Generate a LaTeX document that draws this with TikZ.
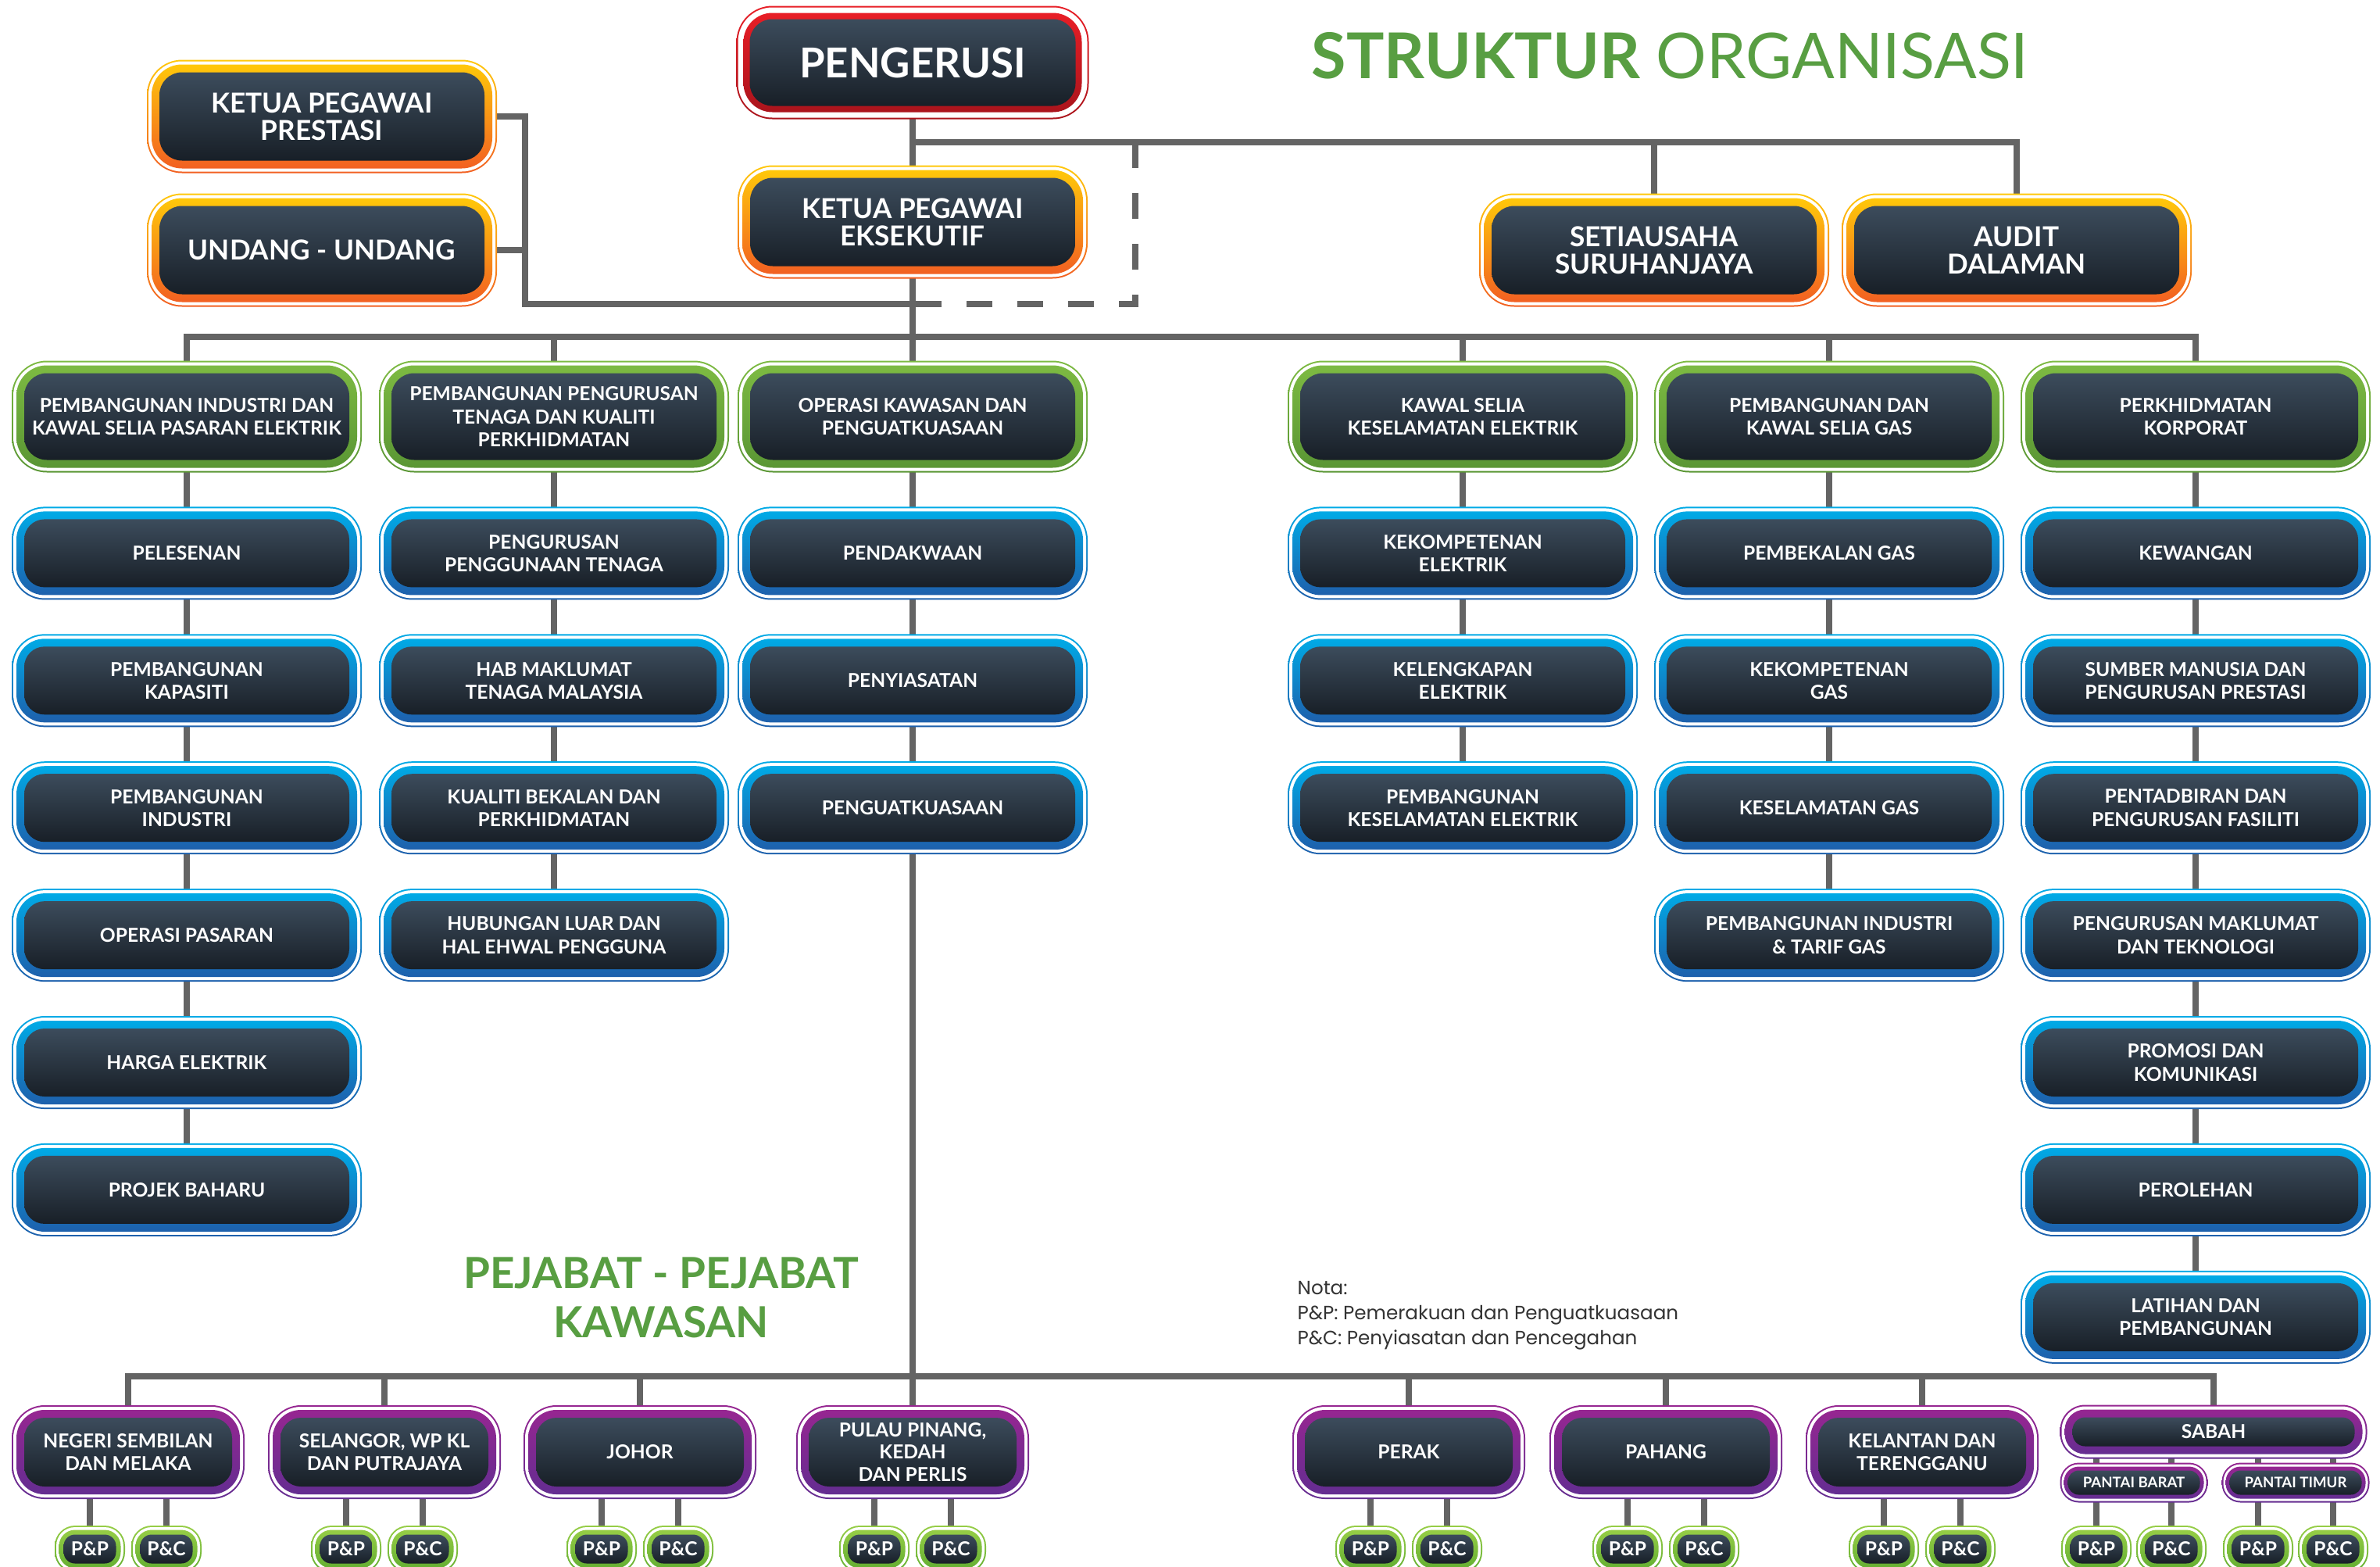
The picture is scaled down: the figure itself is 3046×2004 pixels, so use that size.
\documentclass[tikz,border=0pt]{standalone}
\usepackage{fontspec}
\setmainfont{Lato}
\newfontfamily\notafont{Poppins}
\usetikzlibrary{positioning,backgrounds}

\definecolor{dkA}{RGB}{60,76,92}
\definecolor{dkB}{RGB}{24,31,39}
\definecolor{redA}{RGB}{232,30,38}
\definecolor{redB}{RGB}{170,20,28}
\definecolor{orgA}{RGB}{255,200,10}
\definecolor{orgB}{RGB}{242,96,34}
\definecolor{grnA}{RGB}{125,186,66}
\definecolor{grnB}{RGB}{90,150,52}
\definecolor{bluA}{RGB}{0,170,230}
\definecolor{bluB}{RGB}{30,96,172}
\definecolor{purA}{RGB}{150,38,145}
\definecolor{purB}{RGB}{100,45,145}
\definecolor{limA}{RGB}{150,205,70}
\definecolor{limB}{RGB}{100,175,50}
\definecolor{linkc}{RGB}{100,100,100}
\definecolor{titlec}{RGB}{88,158,66}

\pgfkeys{/org/r/.initial=4mm, /org/a/.initial=0.2mm, /org/b/.initial=0.6mm, /org/c/.initial=1.6mm}

% one rounded layer inside a box, #2 in from its border
\newcommand\orglayer[2]{%
  \path[#1, rounded corners={max(\pgfkeysvalueof{/org/r}-#2,0.4mm)}]
    ([shift={(#2,#2)}]path picture bounding box.south west) rectangle
    ([shift={(-#2,-#2)}]path picture bounding box.north east);}
\newcommand\orgfill[2]{%
  \orglayer{fill=white}{\pgfkeysvalueof{/org/a}}%
  \orglayer{top color=#1, bottom color=#2}{\pgfkeysvalueof{/org/b}}%
  \orglayer{top color=dkA, bottom color=dkB}{\pgfkeysvalueof{/org/c}}}

% a column of sections hanging below #1-0
\newcommand\unitchain[2]{%
  \foreach \t [count=\i, remember=\i as \j (initially 0)] in {#2}{
    \node[sect, below=of #1-\j] (#1-\i) {\t};
    \begin{pgfonlayer}{background}
      \draw[link] (#1-\j) -- (#1-\i);
    \end{pgfonlayer}
  }}

\tikzset{
  orgunit/.style 2 args={rectangle, inner sep=0pt, align=center, text=white,
    top color=#1, bottom color=#2, path picture={\orgfill{#1}{#2}}},
  chief/.style={orgunit={redA}{redB}, /org/r=4.6mm, rounded corners=4.6mm,
    /org/b=0.9mm, /org/c=1.7mm, minimum width=45.1mm, minimum height=14.5mm,
    font=\bfseries\fontsize{15}{18}\selectfont},
  topbox/.style={orgunit={orgA}{orgB}, /org/r=4.5mm, rounded corners=4.5mm,
    minimum width=44.8mm, minimum height=14.5mm, font=\bfseries\fontsize{10}{10}\selectfont},
  dept/.style={orgunit={grnA}{grnB}, /org/r=4.5mm, rounded corners=4.5mm,
    minimum width=44.8mm, minimum height=14.3mm, font=\bfseries\fontsize{7}{8.3}\selectfont},
  sect/.style={orgunit={bluA}{bluB}, /org/r=4.2mm, rounded corners=4.2mm,
    minimum width=44.8mm, minimum height=11.9mm, font=\bfseries\fontsize{7}{8.3}\selectfont},
  office/.style={orgunit={purA}{purB}, /org/r=4.2mm, rounded corners=4.2mm,
    minimum width=29.8mm, minimum height=12mm, font=\bfseries\fontsize{7}{8.2}\selectfont},
  sabahbox/.style={office, /org/r=3.2mm, rounded corners=3.2mm,
    minimum width=39.3mm, minimum height=6.9mm},
  coast/.style={office, /org/r=2.4mm, rounded corners=2.4mm, /org/b=0.5mm, /org/c=1.0mm,
    minimum width=18.9mm, minimum height=5.1mm, font=\bfseries\fontsize{5.3}{6}\selectfont},
  pbox/.style={orgunit={limA}{limB}, /org/r=2.6mm, rounded corners=2.6mm,
    /org/b=0.55mm, /org/c=1.15mm, minimum width=9mm, minimum height=6mm,
    font=\bfseries\fontsize{7}{8}\selectfont},
  link/.style={draw=linkc, line width=0.75mm, line cap=rect},
  dashlink/.style={draw=linkc, line width=0.75mm, dash pattern=on 3.3mm off 3.2mm},
  heading/.style={text=titlec, inner sep=0pt, font=\fontsize{23}{23}\selectfont},
  subheading/.style={text=titlec, inner sep=0pt, align=center,
    font=\bfseries\fontsize{15.6}{18}\selectfont},
  nota/.style={text=black!80, inner sep=0pt, align=left,
    font=\notafont\fontsize{7}{9}\selectfont}
}

\begin{document}
\begin{tikzpicture}[x=0.1mm, y=-0.1mm, node distance=4.25mm]
\useasboundingbox (0,0) rectangle (3046,2004);
\begin{pgfonlayer}{background}
  \fill[white] (0,0) rectangle (3046,2004);
\end{pgfonlayer}

% bus lines
\coordinate (topbus) at (0,182);
\coordinate (midbus) at (0,431);
\coordinate (lowbus) at (0,1761);
\coordinate (legal) at (672,389);
\coordinate (dashc) at (1453,389);

\node[heading, anchor=base west] (title) at (1678,100) {\textbf{STRUKTUR} ORGANISASI};

% top level
\node[chief] (chair) at (1168,80) {PENGERUSI};
\node[topbox] (kpp) at (412,149) {KETUA PEGAWAI\\PRESTASI};
\node[topbox] (law) at (412,320) {UNDANG - UNDANG};
\node[topbox] (ceo) at (1168,284) {KETUA PEGAWAI\\EKSEKUTIF};
\node[topbox] (sec) at (2117,320) {SETIAUSAHA\\SURUHANJAYA};
\node[topbox] (audit) at (2581,320) {AUDIT\\DALAMAN};

% divisions
\node[dept] (c1-0) at (239,533) {PEMBANGUNAN INDUSTRI DAN\\KAWAL SELIA PASARAN ELEKTRIK};
\node[dept] (c2-0) at (709,533) {PEMBANGUNAN PENGURUSAN\\TENAGA DAN KUALITI\\PERKHIDMATAN};
\node[dept] (c3-0) at (1168,533) {OPERASI KAWASAN DAN\\PENGUATKUASAAN};
\node[dept] (c4-0) at (1872,533) {KAWAL SELIA\\KESELAMATAN ELEKTRIK};
\node[dept] (c5-0) at (2341,533) {PEMBANGUNAN DAN\\KAWAL SELIA GAS};
\node[dept] (c6-0) at (2810,533) {PERKHIDMATAN\\KORPORAT};

\unitchain{c1}{PELESENAN, {PEMBANGUNAN\\KAPASITI}, {PEMBANGUNAN\\INDUSTRI},
  OPERASI PASARAN, HARGA ELEKTRIK, PROJEK BAHARU}
\unitchain{c2}{{PENGURUSAN\\PENGGUNAAN TENAGA}, {HAB MAKLUMAT\\TENAGA MALAYSIA},
  {KUALITI BEKALAN DAN\\PERKHIDMATAN}, {HUBUNGAN LUAR DAN\\HAL EHWAL PENGGUNA}}
\unitchain{c3}{PENDAKWAAN, PENYIASATAN, PENGUATKUASAAN}
\unitchain{c4}{{KEKOMPETENAN\\ELEKTRIK}, {KELENGKAPAN\\ELEKTRIK},
  {PEMBANGUNAN\\KESELAMATAN ELEKTRIK}}
\unitchain{c5}{PEMBEKALAN GAS, {KEKOMPETENAN\\GAS}, KESELAMATAN GAS,
  {PEMBANGUNAN INDUSTRI\\\& TARIF GAS}}
\unitchain{c6}{KEWANGAN, {SUMBER MANUSIA DAN\\PENGURUSAN PRESTASI},
  {PENTADBIRAN DAN\\PENGURUSAN FASILITI}, {PENGURUSAN MAKLUMAT\\DAN TEKNOLOGI},
  {PROMOSI DAN\\KOMUNIKASI}, PEROLEHAN, {LATIHAN DAN\\PEMBANGUNAN}}

% regional offices
\node[subheading, anchor=north] (offices) at (846,1608) {PEJABAT - PEJABAT\\KAWASAN};
\node[nota, anchor=north west] (note) at (1660,1639)
  {Nota:\\P\&P: Pemerakuan dan Penguatkuasaan\\P\&C: Penyiasatan dan Pencegahan};

\foreach \n/\x/\t in {ns/164/{NEGERI SEMBILAN\\DAN MELAKA}, sel/492/{SELANGOR, WP KL\\DAN PUTRAJAYA},
    jhr/819/JOHOR, png/1168/{PULAU PINANG,\\KEDAH\\DAN PERLIS}, prk/1803/PERAK,
    phg/2132/PAHANG, kel/2460/{KELANTAN DAN\\TERENGGANU}}{
  \node[office] (\n) at (\x,1858) {\t};
  \node[pbox] (\n-p) at (\x-49,1982) {P\&P};
  \node[pbox] (\n-c) at (\x+49,1982) {P\&C};
  \begin{pgfonlayer}{background}
    \draw[link] (\n |- lowbus) -- (\n);
    \draw[link] (\n-p |- \n.south) -- (\n-p);
    \draw[link] (\n-c |- \n.south) -- (\n-c);
  \end{pgfonlayer}
}

\node[sabahbox] (sabah) at (2833,1832) {SABAH};
\node[coast] (west) at (2731,1897) {PANTAI BARAT};
\node[coast] (east) at (2938,1897) {PANTAI TIMUR};
\foreach \n/\x in {west/2731, east/2938}{
  \node[pbox] (\n-p) at (\x-48,1982) {P\&P};
  \node[pbox] (\n-c) at (\x+48,1982) {P\&C};
  \begin{pgfonlayer}{background}
    \draw[link] (\n-p |- sabah.south) -- (\n-p);
    \draw[link] (\n-c |- sabah.south) -- (\n-c);
  \end{pgfonlayer}
}

\begin{pgfonlayer}{background}
  \draw[link] (chair) -- (ceo);
  \draw[link] (ceo) -- (c3-0);
  \draw[link] (chair |- topbus) -| (audit);
  \draw[link] (sec |- topbus) -- (sec);
  \draw[dashlink] (dashc |- topbus) -- (dashc) -- (ceo |- dashc);
  \draw[link] (kpp) -| (legal) -- (ceo |- legal);
  \draw[link] (law) -- (law -| legal);
  \draw[link] (c1-0 |- midbus) -- (c6-0 |- midbus);
  \foreach \c in {1,...,6}
    \draw[link] (c\c-0 |- midbus) -- (c\c-0);
  \draw[link] (c3-3) -- (png);
  \draw[link] (ns |- lowbus) -- (sabah |- lowbus);
  \draw[link] (sabah |- lowbus) -- (sabah);
\end{pgfonlayer}
\end{tikzpicture}
\end{document}
